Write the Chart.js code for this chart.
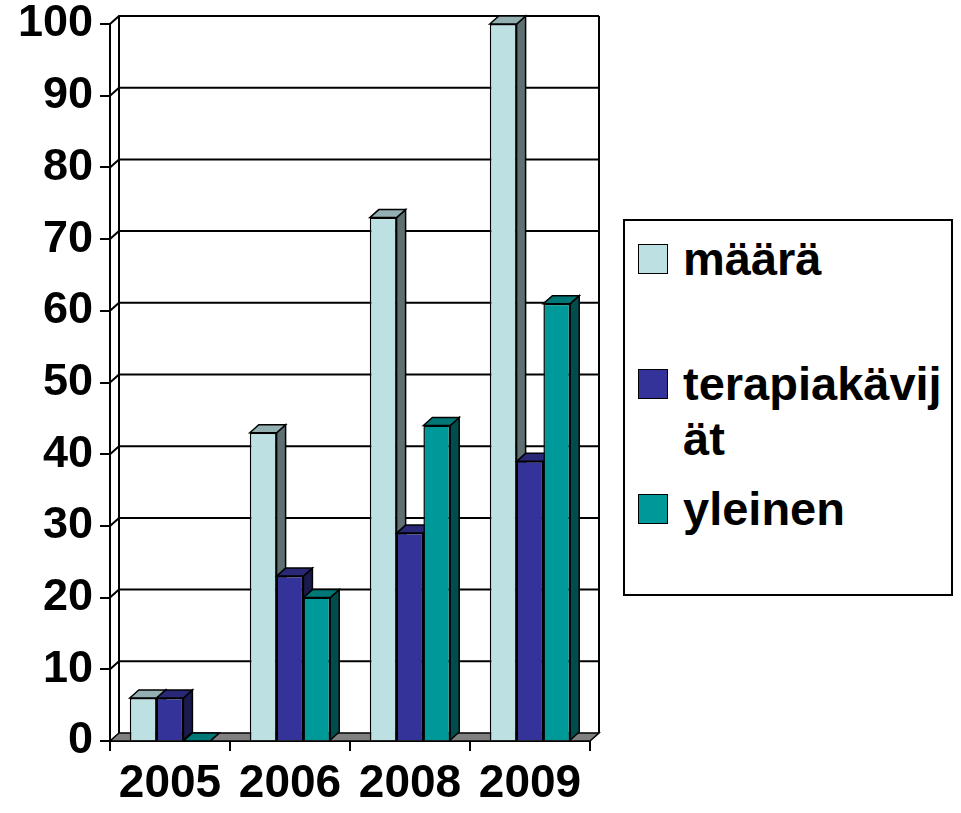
<!DOCTYPE html>
<html>
<head>
<meta charset="utf-8">
<script src="https://cdn.jsdelivr.net/npm/chart.js@4.4.1/dist/chart.umd.min.js"></script>
<style>
  body { margin: 0; background: #fff; }
  #wrap { position: relative; width: 961px; height: 813px; }
  #legend {
    position: absolute; left: 623px; top: 219px; width: 326px; height: 373px;
    border: 2px solid #000; background: #fff;
    font: bold 47px "Liberation Sans", Arial, sans-serif; color: #000;
  }
  .item { position: absolute; left: 13px; }
  .sw { position: absolute; left: 0; top: 0; width: 28px; height: 28px; border: 1.5px solid #000; }
  .txt { position: absolute; left: 45px; top: -13px; width: 268px; line-height: 55px; word-break: break-all; }
</style>
</head>
<body>
<div id="wrap">
  <canvas id="chart" width="961" height="813"></canvas>
  <div id="legend"></div>
</div>
<script>
const years = ['2005', '2006', '2008', '2009'];
const maara = [6, 43, 73, 100];
const terapiakavijat = [6, 23, 29, 39];
const yleinen = [0, 20, 44, 61];
const seriesNames = ['määrä', 'terapiakävijät', 'yleinen'];
const seriesColors = ['#bde0e3', '#333399', '#009999'];
const yMin = 0, yMax = 100, yStep = 10;

const FONT = '"Liberation Sans", Arial, sans-serif';
const DX = 9, DY = -8; // depth of the fake 3d

function shade(hex, f) {
  const n = parseInt(hex.slice(1), 16);
  const r = Math.round(((n >> 16) & 255) * f), g = Math.round(((n >> 8) & 255) * f), b = Math.round((n & 255) * f);
  return `rgb(${r},${g},${b})`;
}

function poly(ctx, pts, fill) {
  ctx.beginPath();
  ctx.moveTo(pts[0][0], pts[0][1]);
  pts.slice(1).forEach(p => ctx.lineTo(p[0], p[1]));
  ctx.closePath();
  if (fill) { ctx.fillStyle = fill; ctx.fill(); }
  ctx.stroke();
}

// draws walls, floor and the bars with side/top faces, left to right
const box3d = {
  id: 'box3d',
  beforeDatasetsDraw(chart) {
    const { ctx, chartArea: a, scales: { y } } = chart;
    ctx.save();
    ctx.strokeStyle = '#000';
    ctx.lineWidth = 2;
    const backTop = y.getPixelForValue(yMax) + DY;
    const backBot = a.bottom + DY;
    y.ticks.forEach(t => {
      if (t.value === yMin) return;
      const py = y.getPixelForValue(t.value);
      ctx.beginPath();
      ctx.moveTo(a.left, py);
      ctx.lineTo(a.left + DX, py + DY);
      ctx.lineTo(a.right + DX, py + DY);
      ctx.stroke();
    });
    ctx.beginPath();
    ctx.moveTo(a.left + DX, backTop); ctx.lineTo(a.left + DX, backBot);
    ctx.moveTo(a.right + DX, backTop); ctx.lineTo(a.right + DX, backBot);
    ctx.stroke();
    // floor
    ctx.lineWidth = 1.5;
    poly(ctx, [[a.left, a.bottom], [a.right, a.bottom], [a.right + DX, backBot], [a.left + DX, backBot]], '#808080');

    const metas = chart.getSortedVisibleDatasetMetas().slice().sort((p, q) => p.index - q.index);
    for (let i = 0; i < years.length; i++) {
      metas.forEach(m => {
        const el = m.data[i];
        const col = seriesColors[m.index];
        el.draw(ctx, a);
        const { x, y: top, base, width } = el.getProps(['x', 'y', 'base', 'width'], true);
        const l = x - width / 2, r = x + width / 2;
        ctx.lineWidth = 1.5;
        ctx.strokeStyle = '#000';
        poly(ctx, [[r, top], [r + DX, top + DY], [r + DX, base + DY], [r, base]], shade(col, 0.5));
        poly(ctx, [[l, top], [l + DX, top + DY], [r + DX, top + DY], [r, top]], shade(col, 0.78));
      });
    }
    ctx.restore();
    return false;
  }
};

const seriesData = [maara, terapiakavijat, yleinen];

new Chart(document.getElementById('chart'), {
  type: 'bar',
  data: {
    labels: years,
    datasets: seriesNames.map((name, i) => ({
      label: name,
      data: seriesData[i],
      backgroundColor: seriesColors[i],
      borderColor: '#000',
      borderWidth: 1.5,
      categoryPercentage: 0.67,
      barPercentage: 1
    }))
  },
  options: {
    responsive: false,
    animation: false,
    layout: { padding: { top: 24, right: 371, left: 0, bottom: 0 } },
    plugins: { legend: { display: false }, tooltip: { enabled: false } },
    scales: {
      x: {
        grid: { drawOnChartArea: false, offset: true, tickLength: 10, color: '#000', lineWidth: 2 },
        border: { color: '#000', width: 2 },
        ticks: { color: '#000', padding: 10, font: { family: FONT, size: 46, weight: 'bold', lineHeight: 1 } },
        afterFit: s => { s.height = 72; s.paddingLeft = 0; s.paddingRight = 0; }
      },
      y: {
        min: yMin, max: yMax,
        grid: { drawOnChartArea: false, tickLength: 10, color: '#000', lineWidth: 2 },
        border: { color: '#000', width: 2 },
        ticks: { stepSize: yStep, color: '#000', padding: 7, font: { family: FONT, size: 45, weight: 'bold', lineHeight: 1 } },
        afterFit: s => { s.width = 110; s.paddingTop = 0; s.paddingBottom = 0; }
      }
    }
  },
  plugins: [box3d]
});

// legend built from the series arrays
const legend = document.getElementById('legend');
seriesNames.forEach((name, i) => {
  const item = document.createElement('div');
  item.className = 'item';
  item.style.top = (23 + i * 125) + 'px';
  item.innerHTML = `<div class="sw" style="background:${seriesColors[i]}"></div><div class="txt">${name}</div>`;
  legend.appendChild(item);
});
</script>
</body>
</html>
